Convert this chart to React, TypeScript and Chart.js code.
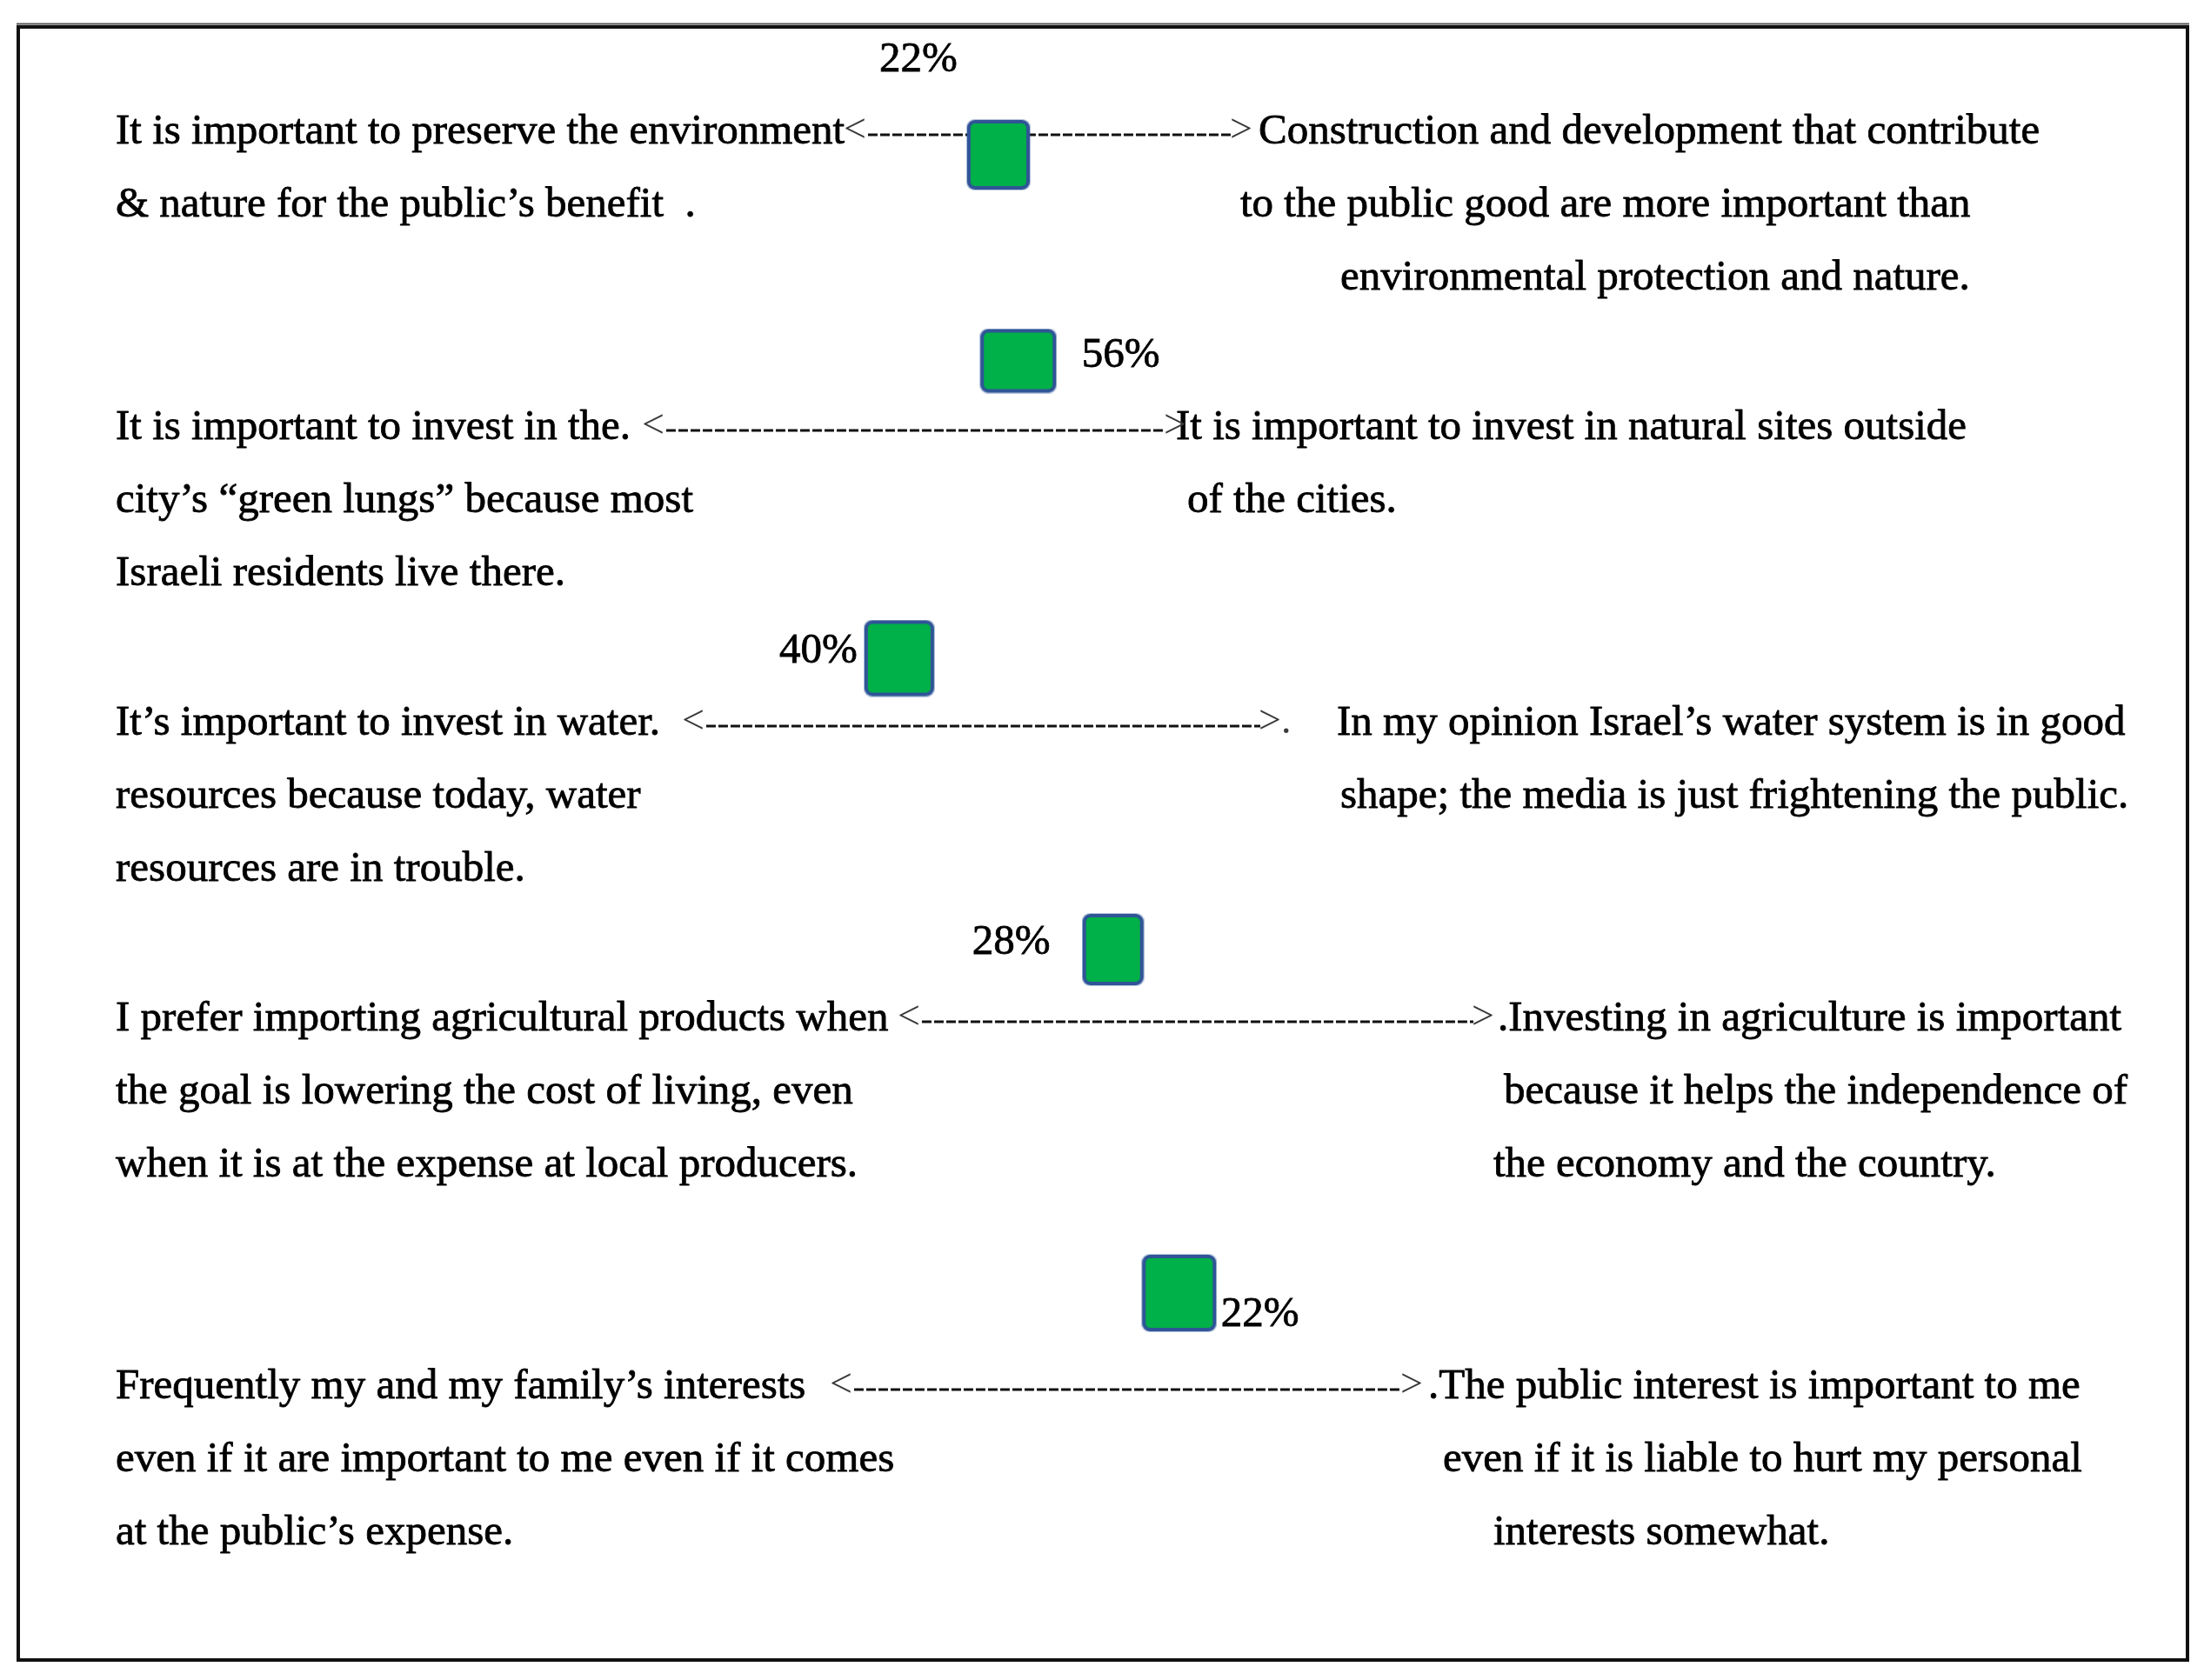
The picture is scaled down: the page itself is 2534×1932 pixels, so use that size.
import React, { useEffect, useRef } from 'react';
import { Chart, registerables } from 'chart.js';

Chart.register(...registerables);

// ---------------- DATA ----------------
const percentages = [22, 56, 40, 28, 22];
// where each marker sits along the continuum (percent of the page width)
const scorePositions = [45.3, 46.2, 40.8, 50.5, 53.5];

const leftStatements: string[][] = [
  ['It is important to preserve the environment', '& nature for the public’s benefit  .'],
  ['It is important to invest in the.', 'city’s “green lungs” because most', 'Israeli residents live there.'],
  ['It’s important to invest in water.', 'resources because today, water', 'resources are in trouble.'],
  ['I prefer importing agricultural products when', 'the goal is lowering the cost of living, even', 'when it is at the expense at local producers.'],
  ['Frequently my and my family’s interests', 'even if it are important to me even if it comes', 'at the public’s expense.'],
];

const rightStatements: string[][] = [
  ['Construction and development that contribute', 'to the public good are more important than', 'environmental protection and nature.'],
  ['It is important to invest in natural sites outside', 'of the cities.'],
  ['In my opinion Israel’s water system is in good', 'shape; the media is just frightening the public.'],
  ['.Investing in agriculture is important', 'because it helps the independence of', 'the economy and the country.'],
  ['.The public interest is important to me', 'even if it is liable to hurt my personal', 'interests somewhat.'],
];

const arrowTails = ['<', '<', '<', '<', '<'];
const arrowHeads = ['>', '>', '>.', '>', '>'];

// ---------------- LAYOUT / STYLE ----------------
const W = 2534;
const H = 1932;
const FONT = '49px "Liberation Serif", "Times New Roman", serif';
const ARROW_FONT = '46px "Liberation Serif", "Times New Roman", serif';
const rowBaseline = [165, 505, 845, 1185, 1608];
const lineGap = 84;
const leftX = 133;
const rightX = [
  [1447, 1426, 1541],
  [1352, 1365],
  [1537, 1541],
  [1722, 1729, 1717],
  [1642, 1659, 1717],
];
const tailX = [970, 738, 784, 1032, 954];
const headX = [1414, 1338, 1447, 1692, 1610];
const squareDy = [13, -90, -88, -93, -121];
const squareSize = [
  [74, 82],
  [89, 75],
  [82, 89],
  [72, 84],
  [87, 90],
];
const labelOffset = [
  [-92, -96],
  [118, 7],
  [-93, 5],
  [-117, 5],
  [93, 38],
];
const GREEN = '#00B048';
const BLUE = '#2F5597';

function makeSquare(w: number, h: number): HTMLCanvasElement {
  const c = document.createElement('canvas');
  c.width = w;
  c.height = h;
  const ctx = c.getContext('2d')!;
  ctx.fillStyle = 'rgba(47,85,151,0.35)';
  ctx.beginPath();
  (ctx as any).roundRect(0, 0, w, h, 9);
  ctx.fill();
  ctx.fillStyle = GREEN;
  ctx.strokeStyle = BLUE;
  ctx.lineWidth = 4;
  ctx.beginPath();
  (ctx as any).roundRect(3, 3, w - 6, h - 6, 7);
  ctx.fill();
  ctx.stroke();
  return c;
}

function inkText(ctx: CanvasRenderingContext2D, t: string, x: number, y: number) {
  ctx.fillText(t, x, y);
  ctx.strokeText(t, x, y);
}

export default function App() {
  const ref = useRef<HTMLCanvasElement | null>(null);

  useEffect(() => {
    document.body.style.margin = '0';
    const canvas = ref.current!;
    const squares = squareSize.map(([w, h]) => makeSquare(w, h));

    const textPlugin = {
      id: 'statements',
      beforeDatasetsDraw(chart: any) {
        const ctx = chart.ctx as CanvasRenderingContext2D;
        ctx.save();
        // frame
        ctx.strokeStyle = '#111';
        ctx.lineWidth = 4;
        ctx.strokeRect(21, 31, 2494, 1878);
        ctx.lineWidth = 2;
        ctx.strokeStyle = '#555';
        ctx.beginPath();
        ctx.moveTo(19, 27.5);
        ctx.lineTo(2517, 27.5);
        ctx.stroke();

        ctx.textBaseline = 'alphabetic';
        ctx.textAlign = 'left';
        ctx.lineWidth = 0.8;
        ctx.lineJoin = 'round';
        for (let i = 0; i < rowBaseline.length; i++) {
          const base = rowBaseline[i];
          ctx.fillStyle = '#000';
          ctx.strokeStyle = '#000';
          ctx.font = FONT;
          leftStatements[i].forEach((t, k) => inkText(ctx, t, leftX, base + k * lineGap));
          rightStatements[i].forEach((t, k) => inkText(ctx, t, rightX[i][k], base + k * lineGap));

          // arrow tail / head
          ctx.font = ARROW_FONT;
          ctx.fillStyle = '#3a3a3a';
          ctx.fillText(arrowTails[i], tailX[i], base - 2);
          const tailW = ctx.measureText(arrowTails[i]).width;
          ctx.fillText(arrowHeads[i], headX[i], base - 2);

          // dashed shaft
          ctx.save();
          ctx.strokeStyle = '#111';
          ctx.lineWidth = 2.8;
          ctx.setLineDash([11, 3]);
          ctx.beginPath();
          ctx.moveTo(tailX[i] + tailW + 2, base - 10);
          ctx.lineTo(headX[i] + 2, base - 10);
          ctx.stroke();
          ctx.restore();
        }
        ctx.restore();
      },
      afterDatasetsDraw(chart: any) {
        const ctx = chart.ctx as CanvasRenderingContext2D;
        const meta = chart.getDatasetMeta(0);
        ctx.save();
        ctx.font = FONT;
        ctx.fillStyle = '#000';
        ctx.strokeStyle = '#000';
        ctx.lineWidth = 0.8;
        ctx.textAlign = 'center';
        ctx.textBaseline = 'alphabetic';
        meta.data.forEach((pt: any, i: number) => {
          inkText(ctx, percentages[i] + '%', pt.x + labelOffset[i][0], pt.y + labelOffset[i][1]);
        });
        ctx.restore();
      },
    };

    const chart = new Chart(canvas, {
      type: 'scatter',
      data: {
        datasets: [
          {
            label: 'Position',
            data: scorePositions.map((x, i) => ({ x, y: rowBaseline[i] + squareDy[i] })),
            pointStyle: (c: any) => squares[c.dataIndex] as any,
            pointRadius: 40,
            showLine: false,
          },
        ],
      },
      options: {
        animation: false,
        responsive: false,
        maintainAspectRatio: false,
        layout: { padding: 0, autoPadding: false },
        events: [],
        plugins: {
          legend: { display: false },
          tooltip: { enabled: false },
        },
        scales: {
          x: { type: 'linear', min: 0, max: 100, display: false },
          y: { type: 'linear', min: 0, max: H, reverse: true, display: false },
        },
      },
      plugins: [textPlugin],
    });

    return () => chart.destroy();
  }, []);

  return (
    <canvas
      ref={ref}
      width={W}
      height={H}
      style={{ display: 'block', width: W + 'px', height: H + 'px', background: '#fff' }}
    />
  );
}
